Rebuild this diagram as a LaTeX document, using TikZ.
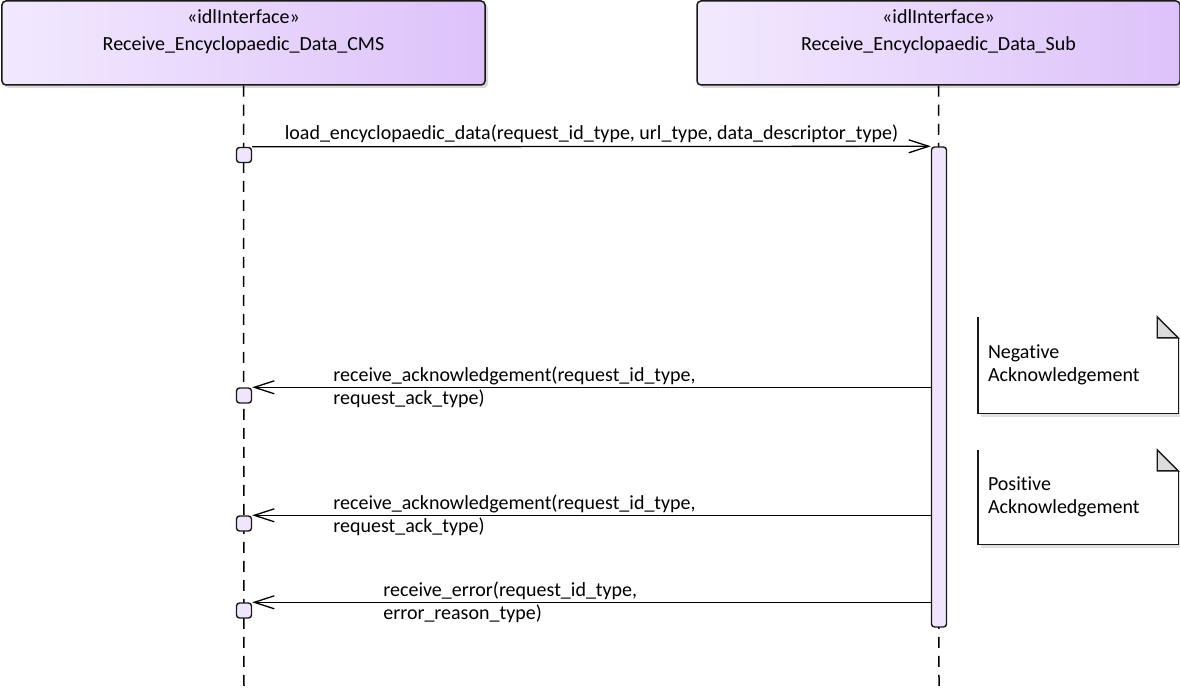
\documentclass[tikz,border=0pt]{standalone}
\usepackage{fontspec}
\setmainfont{Carlito}[Ligatures=NoCommon]
\usetikzlibrary{arrows.meta,positioning,shadows}
\definecolor{hdrleft}{RGB}{242,233,254}
\definecolor{hdrright}{RGB}{221,194,250}
\definecolor{actfill}{RGB}{240,229,252}
\definecolor{foldgray}{RGB}{220,220,220}

\begin{document}
\begin{tikzpicture}[x=1bp,y=-1bp,font=\fontsize{20bp}{23bp}\selectfont,
 hdr/.style={draw=black!90,line width=1.5bp,rounded corners=4bp,left color=hdrleft,right color=hdrright,
   minimum width=483bp,minimum height=84bp,drop shadow={shadow xshift=3bp,shadow yshift=-3bp,fill=black!15,opacity=1}},
 hdrtxt/.style={align=center,inner sep=0pt,font=\fontsize{20bp}{27bp}\selectfont},
 life/.style={black,line width=1.5bp,dash pattern=on 11bp off 8bp},
 act/.style={draw=black!90,line width=1.4bp,rounded corners=3bp,fill=actfill,minimum width=15bp,minimum height=480bp,inner sep=0pt},
 call/.style={draw=black!90,line width=1.4bp,rounded corners=3bp,fill=actfill,minimum width=15bp,minimum height=15bp,inner sep=0pt},
 msg/.style={line width=1.3bp,-{Straight Barb[length=20bp,width=13bp,line width=1.3bp]}},
 msglbl/.style={anchor=west,align=left,inner sep=0pt},
 note/.style={text width=180bp,inner xsep=10bp,inner ysep=0pt,align=left}]
\useasboundingbox (0,0) rectangle (1180,688);

% lifeline heads
\node[hdr] (cms) at (243.5,43) {};
\node[hdrtxt,below=9bp of cms.north] (cmsname) {«idlInterface»\\Receive\_Encyclopaedic\_Data\_CMS};
\node[hdr] (sub) at (938.5,43) {};
\node[hdrtxt,below=9bp of sub.north] (subname) {«idlInterface»\\Receive\_Encyclopaedic\_Data\_Sub};

\coordinate (cmsend) at (244,688);
\coordinate (subend) at (939,688);
\draw[life] (cms.south) -- (cmsend);
\draw[life] (sub.south) -- (subend);

% activation and calls
\node[act] (act) at (939,387) {};
\node[call] (c1) at (244,155) {};
\node[call] (c2) at (244,395.5) {};
\node[call] (c3) at (244,523.5) {};
\node[call] (c4) at (244,610.5) {};

% messages
\draw[msg] (c1.north east) -- (act.north west)
  node[midway,above=3bp,inner sep=0pt] (m1) {load\_encyclopaedic\_data(request\_id\_type, url\_type, data\_descriptor\_type)};
\draw[msg] (act.west |- c2.north) -- (c2.north east);
\node[msglbl,right=81bp of c2.north east] (m2) {receive\_acknowledgement(request\_id\_type,\\request\_ack\_type)};
\draw[msg] (act.west |- c3.north) -- (c3.north east);
\node[msglbl,right=81bp of c3.north east] (m3) {receive\_acknowledgement(request\_id\_type,\\request\_ack\_type)};
\draw[msg] (act.west |- c4.north) -- (c4.north east);
\node[msglbl,right=131bp of c4.north east] (m4) {receive\_error(request\_id\_type,\\error\_reason\_type)};

% notes
\foreach \nn/\ny/\nh/\ntxt in {neg/365/96/Negative,pos/497/94/Positive}{
  \node[note,minimum height=\nh bp] (\nn) at (1078,\ny) {\ntxt\\Acknowledgement};
  \fill[black!12] ([xshift=3bp]\nn.south west) rectangle ([xshift=3bp,yshift=-4bp]\nn.south east);
  \fill[black!12] ([yshift=-21bp]\nn.north east) rectangle ([xshift=3bp,yshift=-4bp]\nn.south east);
  \draw[line width=1.4bp,black!90] (\nn.north west) -- (\nn.south west) -- (\nn.south east)
    -- ([yshift=-21bp]\nn.north east);
  \filldraw[fill=foldgray,draw=black!90,line width=1.4bp] ([xshift=-21bp]\nn.north east)
    -- ([xshift=-21bp,yshift=-21bp]\nn.north east) -- ([yshift=-21bp]\nn.north east) -- cycle;
}
\end{tikzpicture}
\end{document}
